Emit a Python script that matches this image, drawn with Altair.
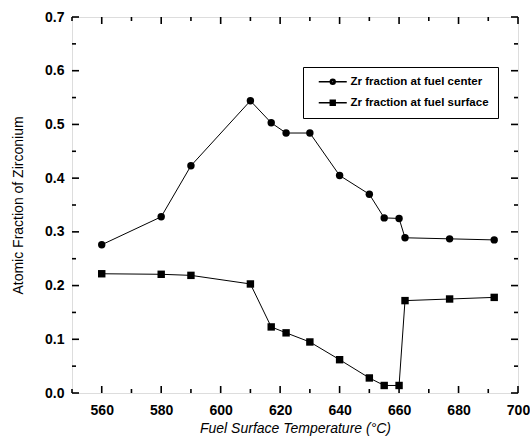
import altair as alt
import pandas as pd

# ---- data ----
temps = [560, 580, 590, 610, 617, 622, 630, 640, 650, 655, 660, 662, 677, 692]
center = [0.276, 0.328, 0.423, 0.544, 0.503, 0.484, 0.484, 0.405, 0.370, 0.326, 0.325, 0.289, 0.287, 0.285]
surface = [0.222, 0.221, 0.219, 0.203, 0.123, 0.112, 0.095, 0.062, 0.028, 0.014, 0.014, 0.172, 0.175, 0.178]
series_names = ["Zr fraction at fuel center", "Zr fraction at fuel surface"]

x_major = [560, 580, 600, 620, 640, 660, 680, 700]
x_minor = [550, 570, 590, 610, 630, 650, 670, 690]
y_major = [0.0, 0.1, 0.2, 0.3, 0.4, 0.5, 0.6, 0.7]
y_minor = [0.05, 0.15, 0.25, 0.35, 0.45, 0.55, 0.65]
x_lim = [550, 700]
y_lim = [0.0, 0.7]

rows = []
for t, c in zip(temps, center):
    rows.append({"T": t, "v": c, "series": series_names[0]})
for t, s in zip(temps, surface):
    rows.append({"T": t, "v": s, "series": series_names[1]})
df = pd.DataFrame(rows)

# tick table: tick positions on each side of the frame
tick_rows = []
for kind, xs in (("major", x_major), ("minor", x_minor)):
    for t in xs:
        tick_rows.append({"T": t, "v": y_lim[0], "side": "bottom", "kind": kind})
        tick_rows.append({"T": t, "v": y_lim[1], "side": "top", "kind": kind})
for kind, ys in (("major", y_major), ("minor", y_minor)):
    for v in ys:
        tick_rows.append({"T": x_lim[0], "v": v, "side": "left", "kind": kind})
        tick_rows.append({"T": x_lim[1], "v": v, "side": "right", "kind": kind})
ticks_df = pd.DataFrame(tick_rows)

W, H = 446, 376
FONT = "Liberation Sans, Arial, sans-serif"
NARROW = "Liberation Sans Narrow, Arial Narrow, Liberation Sans, sans-serif"

xscale = alt.Scale(domain=x_lim, nice=False, zero=False)
yscale = alt.Scale(domain=y_lim, nice=False)

x_axis = alt.Axis(
    values=x_major, format="d", ticks=False, domain=False, grid=False,
    labelFont=FONT, labelFontSize=14, labelFontWeight="bold", labelColor="black",
    labelPadding=10, labelFlush=False,
    title="Fuel Surface Temperature (\u00b0C)",
    titleFont=FONT, titleFontSize=14, titleFontWeight="normal", titleFontStyle="italic",
    titleColor="black", titlePadding=4,
)
y_axis = alt.Axis(
    values=y_major, format=".1f", ticks=False, domain=False, grid=False,
    labelFont=FONT, labelFontSize=14, labelFontWeight="bold", labelColor="black",
    labelPadding=8, labelFlush=False,
    title="Atomic Fraction of Zirconium",
    titleFont=FONT, titleFontSize=14, titleFontWeight="normal", titleColor="black",
    titlePadding=19,
)

X = alt.X("T:Q", scale=xscale, axis=x_axis)
Y = alt.Y("v:Q", scale=yscale, axis=y_axis)

base = alt.Chart(df)

lines = base.mark_line(color="black", strokeWidth=1).encode(x=X, y=Y, detail="series:N")

points = base.mark_point(filled=True, color="black", opacity=1, size=55).encode(
    x=X, y=Y,
    shape=alt.Shape("series:N", scale=alt.Scale(domain=series_names, range=["circle", "square"]), legend=None),
)


def ring(r):
    return f"M{-r},0A{r},{r},0,1,1,{r},0A{r},{r},0,1,1,{-r},0Z"


def box(h):
    return f"M{-h},{-h}H{h}V{h}H{-h}Z"


circle_path = "M-4,0H-0.7M0.7,0H4" + ring(0.7) + ring(0.35) + ring(0.05)
square_path = "M-4,0H-0.7M0.7,0H4" + box(0.7) + box(0.35) + box(0.05)

legend_layer = base.transform_filter("false").mark_point(
    filled=False, color="black", strokeWidth=1.5, opacity=1
).encode(
    x=X, y=Y,
    shape=alt.Shape(
        "series:N",
        scale=alt.Scale(domain=series_names, range=[circle_path, square_path]),
        legend=alt.Legend(
            title=None, orient="none", legendX=231, legendY=50,
            strokeColor="black", fillColor="white", padding=9,
            symbolSize=49, symbolStrokeWidth=1.5, symbolStrokeColor="black",
            symbolOpacity=1,
            symbolOffset=15, labelOffset=12, rowPadding=8,
            labelFont=NARROW, labelFontSize=11.5, labelFontWeight="bold",
            labelColor="black", labelLimit=400,
        ),
    ),
)

# inward tick marks: (side, orientation, direction into the plot)
SIZES = {"major": 7, "minor": 4}
SIDES = {"bottom": ("vertical", 0, -1), "top": ("vertical", 0, 1),
         "left": ("horizontal", 1, 0), "right": ("horizontal", -1, 0)}
tick_layers = []
for side, (orient, dx, dy) in SIDES.items():
    for kind, sz in SIZES.items():
        tick_layers.append(
            alt.Chart(ticks_df)
            .transform_filter(f"datum.side == '{side}' && datum.kind == '{kind}'")
            .mark_tick(orient=orient, size=sz, thickness=1.6, color="black", opacity=1,
                       xOffset=dx * sz / 2, yOffset=dy * sz / 2)
            .encode(x=X, y=Y)
        )

chart = (
    alt.layer(lines, points, legend_layer, *tick_layers)
    .resolve_scale(shape="independent")
    .properties(width=W, height=H, autosize=alt.AutoSizeParams(type="none"),
                padding={"left": 72, "top": 17, "right": 12, "bottom": 55})
    .configure_view(stroke="black", strokeWidth=2)
    .configure(background="white")
)

chart.save("out.html", embed_options={"renderer": "svg", "actions": False})
